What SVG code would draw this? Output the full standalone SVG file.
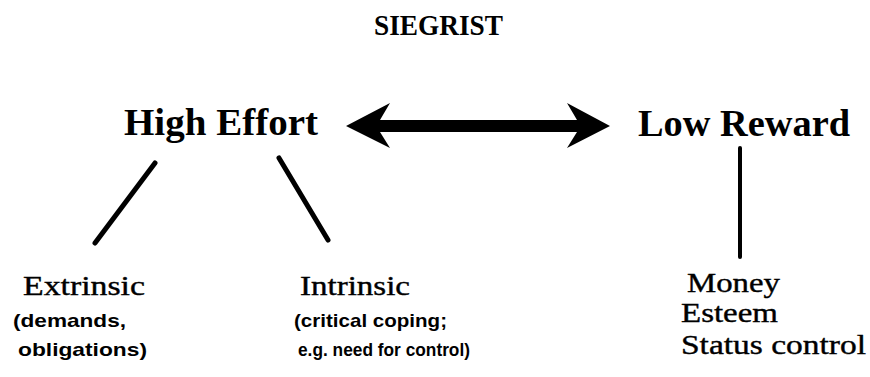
<svg xmlns="http://www.w3.org/2000/svg" width="870" height="377" viewBox="0 0 870 377">
<style>
.title{font-family:"Liberation Serif","Times New Roman",serif;font-weight:bold;font-size:29px;fill:#000}
.main{font-family:"Liberation Serif","Times New Roman",serif;font-weight:bold;font-size:38px;fill:#000}
.item{font-family:"Liberation Serif","Times New Roman",serif;font-size:28px;fill:#000;stroke:#000;stroke-width:0.4}
.note{font-family:"Liberation Sans",Arial,sans-serif;font-weight:bold;font-size:19px;fill:#000}
.ln{stroke:#000;stroke-width:5;stroke-linecap:round;fill:none}
</style>
<rect width="870" height="377" fill="#fff"/>
<g id="title"><text class="title" x="374" y="35" textLength="129" lengthAdjust="spacingAndGlyphs">SIEGRIST</text></g>
<g id="high-effort"><text class="main" x="124" y="135" textLength="194" lengthAdjust="spacingAndGlyphs">High Effort</text></g>
<g id="low-reward"><text class="main" x="638" y="136" textLength="212" lengthAdjust="spacingAndGlyphs">Low Reward</text></g>
<g id="extrinsic">
<text class="item" x="23" y="295" textLength="122" lengthAdjust="spacingAndGlyphs">Extrinsic</text>
<text class="note" x="13" y="327" textLength="113" lengthAdjust="spacingAndGlyphs">(demands,</text>
<text class="note" x="18" y="356" textLength="129" lengthAdjust="spacingAndGlyphs">obligations)</text>
</g>
<g id="intrinsic">
<text class="item" x="300" y="295" textLength="110" lengthAdjust="spacingAndGlyphs">Intrinsic</text>
<text class="note" x="294" y="327" textLength="153" lengthAdjust="spacingAndGlyphs">(critical coping;</text>
<text class="note" x="298" y="356" textLength="172" lengthAdjust="spacingAndGlyphs">e.g. need for control)</text>
</g>
<g id="rewards">
<text class="item" x="687" y="292" textLength="93" lengthAdjust="spacingAndGlyphs">Money</text>
<text class="item" x="681" y="322" textLength="97" lengthAdjust="spacingAndGlyphs">Esteem</text>
<text class="item" x="681" y="354" textLength="185" lengthAdjust="spacingAndGlyphs">Status control</text>
</g>
<g id="connectors">
<path d="M346,126 L390,103 L380,120 L577,120 L567,103 L610,126 L567,148 L577,132 L380,132 L390,148 Z" fill="#000"/>
<line class="ln" x1="155" y1="163" x2="95" y2="243"/>
<line class="ln" x1="279" y1="158" x2="328" y2="240"/>
<line class="ln" x1="740" y1="148" x2="740" y2="257" style="stroke-width:4"/>
</g>
</svg>
